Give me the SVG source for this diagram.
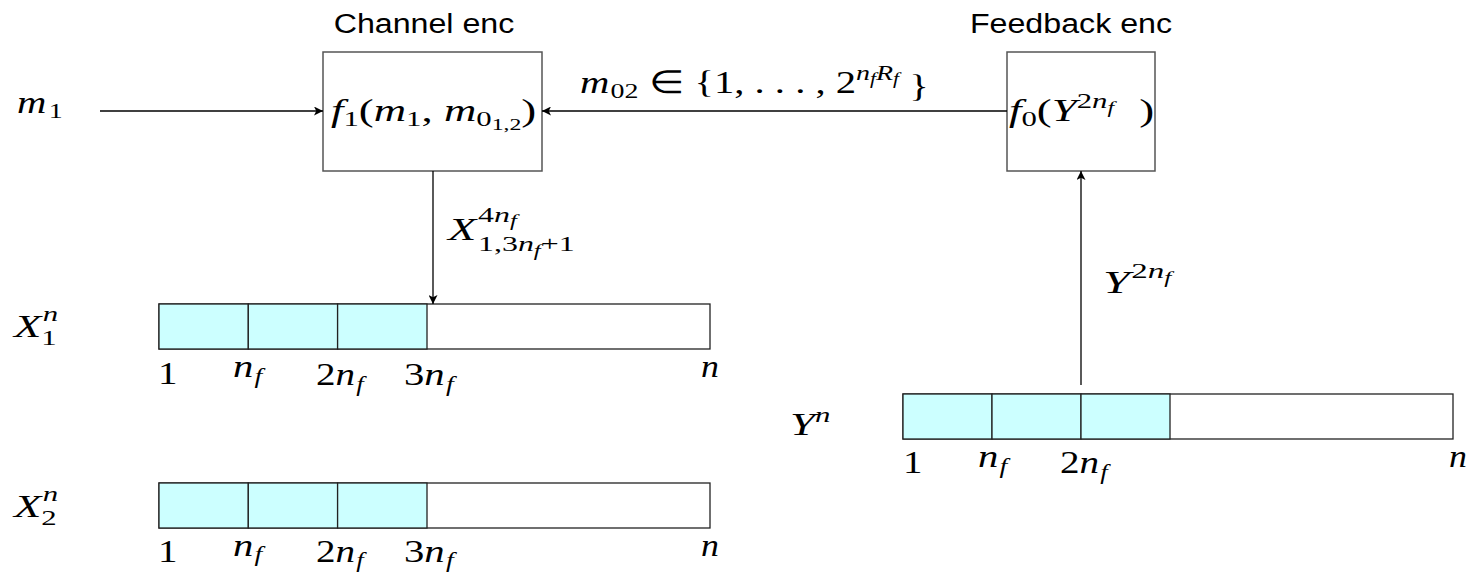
<svg xmlns="http://www.w3.org/2000/svg" width="1473" height="574" viewBox="0 0 1473 574">
<style>
.t{font-family:"Liberation Sans",Arial,sans-serif;font-size:28px;fill:#000}
.m{font-family:"Liberation Serif","Times New Roman",serif;font-size:32px;fill:#000}
.i{font-style:italic}
.s{font-size:22px}
.ss{font-size:17px}
.box{fill:#fff;stroke:#555;stroke-width:1.5}
.bar{fill:#fff;stroke:#222;stroke-width:1.3}
.cell{fill:#ccffff;stroke:#222;stroke-width:1.3}
.c{stroke:#000;stroke-width:1.3;fill:none}
</style>
<defs>
<marker id="a" viewBox="0 0 10 10" refX="10" refY="5" markerWidth="9" markerHeight="9" markerUnits="userSpaceOnUse" orient="auto">
<path d="M0,0 L10,5 L0,10 L2.5,5 z" fill="#000"/>
</marker>
</defs>

<g id="channel-enc">
<rect class="box" x="323" y="52" width="219" height="119"/>
<text class="t" transform="translate(424,33) scale(1.15,1)" text-anchor="middle">Channel enc</text>
<text class="m" transform="translate(331,121) scale(1.4,1)"><tspan class="i">f</tspan><tspan class="s" dy="5">1</tspan><tspan dy="-5">(</tspan><tspan class="i">m</tspan><tspan class="s" dy="5">1</tspan><tspan dy="-5">, </tspan><tspan class="i">m</tspan><tspan class="s" dy="5">0</tspan><tspan class="ss" dy="4">1,2</tspan><tspan dy="-9">)</tspan></text>
</g>

<g id="feedback-enc">
<rect class="box" x="1007" y="52" width="148" height="119"/>
<text class="t" transform="translate(1071,33) scale(1.15,1)" text-anchor="middle">Feedback enc</text>
<text class="m" transform="translate(1009,121) scale(1.4,1)"><tspan class="i">f</tspan><tspan class="s" dy="5">0</tspan><tspan dy="-5">(</tspan><tspan class="i">Y</tspan><tspan class="s" dy="-13">2</tspan><tspan class="s i">n</tspan><tspan class="ss i" dy="5">f</tspan><tspan x="93" dy="8">)</tspan></text>
</g>

<g id="input-m1">
<text class="m" transform="translate(17,113) scale(1.27,1)"><tspan class="i">m</tspan><tspan class="s" dx="2" dy="5">1</tspan></text>
</g>

<g id="x1-block">
<text class="m" transform="translate(14,337) scale(1.4,1)"><tspan class="i">X</tspan><tspan class="s" dy="8">1</tspan><tspan class="s i" dx="-10" dy="-24">n</tspan></text>
<rect class="bar" x="159" y="304" width="551" height="45"/>
<rect class="cell" x="159" y="304" width="89.3" height="45"/>
<rect class="cell" x="248.3" y="304" width="89.3" height="45"/>
<rect class="cell" x="337.6" y="304" width="89.4" height="45"/>
<text class="m" transform="translate(158,384) scale(1.22,1)">1</text>
<text class="m" transform="translate(233,377) scale(1.27,1)"><tspan class="i">n</tspan><tspan class="s i" dx="1" dy="6">f</tspan></text>
<text class="m" transform="translate(316,385) scale(1.22,1)">2<tspan class="i">n</tspan><tspan class="s i" dx="1" dy="6">f</tspan></text>
<text class="m" transform="translate(404,385) scale(1.27,1)">3<tspan class="i">n</tspan><tspan class="s i" dx="1" dy="6">f</tspan></text>
<text class="m i" transform="translate(701,377) scale(1.12,1)">n</text>
</g>

<g id="x2-block">
<text class="m" transform="translate(14,517) scale(1.4,1)"><tspan class="i">X</tspan><tspan class="s" dy="8">2</tspan><tspan class="s i" dx="-10" dy="-24">n</tspan></text>
<rect class="bar" x="159" y="483" width="551" height="45"/>
<rect class="cell" x="159" y="483" width="89.3" height="45"/>
<rect class="cell" x="248.3" y="483" width="89.3" height="45"/>
<rect class="cell" x="337.6" y="483" width="89.4" height="45"/>
<text class="m" transform="translate(158,562) scale(1.22,1)">1</text>
<text class="m" transform="translate(233,556) scale(1.27,1)"><tspan class="i">n</tspan><tspan class="s i" dx="1" dy="5">f</tspan></text>
<text class="m" transform="translate(316,562) scale(1.22,1)">2<tspan class="i">n</tspan><tspan class="s i" dx="1" dy="5">f</tspan></text>
<text class="m" transform="translate(404,562) scale(1.27,1)">3<tspan class="i">n</tspan><tspan class="s i" dx="1" dy="5">f</tspan></text>
<text class="m i" transform="translate(701,556) scale(1.12,1)">n</text>
</g>

<g id="y-block">
<text class="m" transform="translate(790,435) scale(1.4,1)"><tspan class="i">Y</tspan><tspan class="s i" dy="-13">n</tspan></text>
<rect class="bar" x="903" y="394" width="550" height="45"/>
<rect class="cell" x="903" y="394" width="89" height="45"/>
<rect class="cell" x="992" y="394" width="89" height="45"/>
<rect class="cell" x="1081" y="394" width="89" height="45"/>
<text class="m" transform="translate(903,473) scale(1.22,1)">1</text>
<text class="m" transform="translate(978,467) scale(1.27,1)"><tspan class="i">n</tspan><tspan class="s i" dx="1" dy="6">f</tspan></text>
<text class="m" transform="translate(1060,473) scale(1.22,1)">2<tspan class="i">n</tspan><tspan class="s i" dx="1" dy="6">f</tspan></text>
<text class="m i" transform="translate(1449,467) scale(1.12,1)">n</text>
</g>

<g id="connectors">
<line class="c" x1="100" y1="111" x2="323" y2="111" marker-end="url(#a)"/>
<line class="c" x1="1007" y1="111" x2="542" y2="111" marker-end="url(#a)"/>
<line class="c" x1="433" y1="171" x2="433" y2="304" marker-end="url(#a)"/>
<line class="c" x1="1081" y1="385" x2="1081" y2="171" marker-end="url(#a)"/>
<text class="m" transform="translate(580,93) scale(1.27,1)"><tspan class="i">m</tspan><tspan class="s" dx="1" dy="5">02</tspan><tspan dy="-5"> ∈ {1, . . . , 2</tspan><tspan class="s i" dy="-13">n</tspan><tspan class="ss i" dy="4">f</tspan><tspan class="s i" dy="-4">R</tspan><tspan class="ss i" dy="4">f</tspan><tspan dy="13"> }</tspan></text>
<text class="m" transform="translate(448,240) scale(1.45,1)"><tspan class="i">X</tspan><tspan class="s" x="20.7" y="-18">4<tspan class="i">n</tspan><tspan class="ss i" dy="4">f</tspan></tspan></text>
<text class="m" transform="translate(448,240) scale(1.45,1)"><tspan class="s" x="20.7" y="11">1,3<tspan class="i">n</tspan><tspan class="ss i" dy="5">f</tspan><tspan dy="-5">+1</tspan></tspan></text>
<text class="m" transform="translate(1103,293) scale(1.5,1)"><tspan class="i">Y</tspan><tspan class="s" dx="1" dy="-15">2<tspan class="i">n</tspan></tspan><tspan class="ss i" dy="5">f</tspan></text>
</g>
</svg>
